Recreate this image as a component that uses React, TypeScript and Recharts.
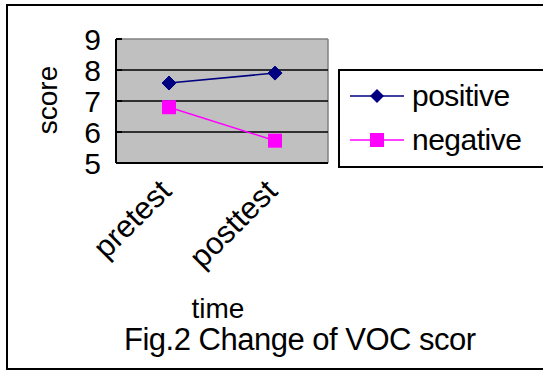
import React from "react";
import {
  CartesianGrid,
  Legend,
  Line,
  LineChart,
  XAxis,
  YAxis,
} from "recharts";

const categories = ["pretest", "posttest"];
const positive = [7.58, 7.9];
const negative = [6.8, 5.72];
const yTicks = [5, 6, 7, 8, 9];

const data = categories.map((time, i) => ({
  time,
  positive: positive[i],
  negative: negative[i],
}));

const FONT = '"Liberation Sans", Arial, sans-serif';
const NAVY = "#000080";
const MAGENTA = "#ff00ff";

const Diamond = ({ cx, cy }: any) => (
  <polygon
    points={`${cx},${cy - 7} ${cx + 7},${cy} ${cx},${cy + 7} ${cx - 7},${cy}`}
    fill={NAVY}
    stroke={NAVY}
  />
);

const Square = ({ cx, cy }: any) => (
  <rect x={cx - 7} y={cy - 7} width={14} height={14} fill={MAGENTA} />
);

const XTick = ({ x, y, payload }: any) => (
  <g transform={`translate(${x + 4},${y + 30})`}>
    <text
      textAnchor="end"
      transform="rotate(-45)"
      fontFamily={FONT}
      fontSize={31}
      fill="#000"
    >
      {payload.value}
    </text>
  </g>
);

const LegendBox = () => (
  <div
    style={{
      width: 210,
      height: 99,
      border: "2px solid #000",
      background: "#fff",
      fontFamily: FONT,
      fontSize: 30,
      boxSizing: "border-box",
    }}
  >
    {[
      { name: "positive", color: NAVY, square: false, top: 10 },
      { name: "negative", color: MAGENTA, square: true, top: 54 },
    ].map((it) => (
      <div
        key={it.name}
        style={{ position: "absolute", left: 12, top: it.top, display: "flex", alignItems: "center", height: 34 }}
      >
        <svg width={56} height={20}>
          <line x1={0} y1={10} x2={54} y2={10} stroke={it.color} strokeWidth={1.5} />
          {it.square ? (
            <rect x={20} y={3} width={14} height={14} fill={it.color} />
          ) : (
            <polygon points="27,3 34,10 27,17 20,10" fill={it.color} />
          )}
        </svg>
        <span style={{ marginLeft: 6, letterSpacing: -0.5 }}>{it.name}</span>
      </div>
    ))}
  </div>
);

export default function App() {
  return (
    <div
      style={{
        position: "absolute",
        left: 0,
        top: 0,
        width: 543,
        height: 371,
        background: "#fff",
        overflow: "hidden",
      }}
    >
      <div
        style={{
          position: "absolute",
          left: 6,
          top: 4,
          width: 560,
          height: 362,
          border: "2px solid #000",
        }}
      />
      <LineChart
        width={543}
        height={371}
        data={data}
        margin={{ top: 39, right: 215, bottom: 108, left: 56 }}
      >
        {/* grey plot frame (top + right edge) */}
        <CartesianGrid
          horizontalValues={[9]}
          verticalCoordinatesGenerator={({ offset }: any) => [offset.left + offset.width]}
          stroke="#808080"
          strokeWidth={1.5}
          fill="#c0c0c0"
        />
        <CartesianGrid
          horizontalValues={[6, 7, 8]}
          vertical={false}
          stroke="#000"
          strokeWidth={1.5}
        />
        <XAxis
          dataKey="time"
          stroke="#000"
          strokeWidth={2}
          tickLine={false}
          tickSize={0}
          tickMargin={0}
          height={100}
          padding={{ left: 53, right: 53 }}
          tick={<XTick />}
          interval={0}
        />
        <YAxis
          domain={[5, 9]}
          ticks={yTicks}
          stroke="#000"
          strokeWidth={2}
          width={60}
          tickSize={-6}
          tickMargin={21}
          tick={{ fill: "#000", fontSize: 30, fontFamily: FONT }}
          interval={0}
        />
        <Legend
          layout="vertical"
          align="center"
          verticalAlign="middle"
          content={<LegendBox />}
          wrapperStyle={{ left: 338, top: 69, width: 210, height: 99 }}
        />
        <Line
          dataKey="positive"
          stroke={NAVY}
          strokeWidth={1.5}
          dot={<Diamond />}
          isAnimationActive={false}
        />
        <Line
          dataKey="negative"
          stroke={MAGENTA}
          strokeWidth={1.5}
          dot={<Square />}
          isAnimationActive={false}
        />
      </LineChart>
      <div
        style={{
          position: "absolute",
          left: 30,
          top: 100,
          transform: "translate(-50%, -50%) rotate(-90deg)",
          transformOrigin: "center",
          marginLeft: 18,
          fontFamily: FONT,
          fontSize: 28,
          lineHeight: 1,
        }}
      >
        score
      </div>
      <div
        style={{
          position: "absolute",
          left: 218,
          top: 295,
          transform: "translateX(-50%)",
          fontFamily: FONT,
          fontSize: 28,
          lineHeight: 1,
        }}
      >
        time
      </div>
      <div
        style={{
          position: "absolute",
          left: 124,
          top: 324,
          fontFamily: FONT,
          fontSize: 31,
          lineHeight: 1,
          letterSpacing: -0.5,
          whiteSpace: "nowrap",
        }}
      >
        Fig.2 Change of VOC scor
      </div>
    </div>
  );
}
